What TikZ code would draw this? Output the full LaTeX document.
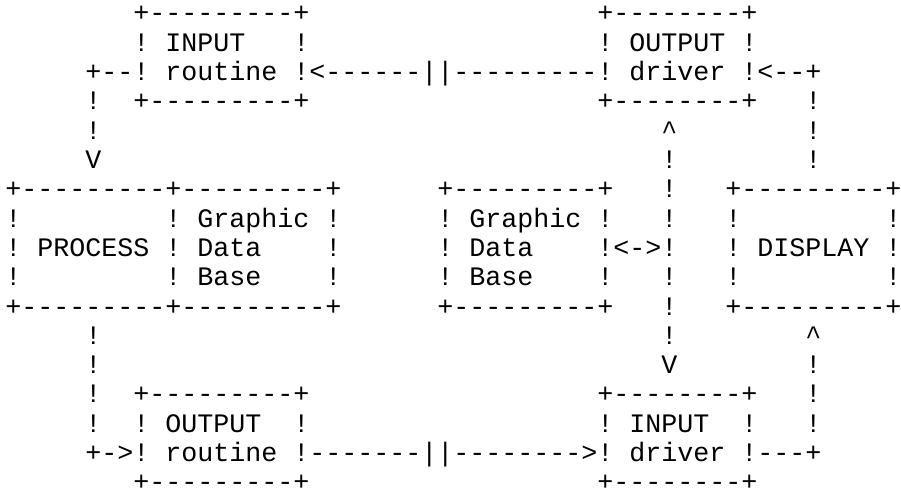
\documentclass[tikz,border=0pt]{standalone}
\usepackage{fontspec}
\setmonofont{Liberation Mono}
\tikzset{
  seg/.style={inner sep=0pt, outer sep=0pt, anchor=base west,
    font=\ttfamily\fontsize{26.67pt}{29.3pt}\selectfont, text=black}
}
\newcommand\asciiseg[4]{\node[seg] (#1) at ({5.3pt+16.003pt*#2},{-22pt-29.3pt*#3}) {#4};}
\begin{document}
\begin{tikzpicture}
\fill[white] (0,0) rectangle (901pt,-495pt);
\useasboundingbox (0,0) rectangle (901pt,-495pt);
% row 0
\asciiseg{a0}{8}{0}{+---------+}
\asciiseg{b0}{37}{0}{+--------+}
% row 1
\asciiseg{a1}{8}{1}{!}
\asciiseg{a1t}{10}{1}{INPUT}
\asciiseg{a1r}{18}{1}{!}
\asciiseg{b1}{37}{1}{!}
\asciiseg{b1t}{39}{1}{OUTPUT}
\asciiseg{b1r}{46}{1}{!}
% row 2
\asciiseg{l2}{5}{2}{+--!}
\asciiseg{a2t}{10}{2}{routine}
\asciiseg{m2}{18}{2}{!<------||---------!}
\asciiseg{b2t}{39}{2}{driver}
\asciiseg{r2}{46}{2}{!<--+}
% row 3
\asciiseg{l3}{5}{3}{!}
\asciiseg{a3}{8}{3}{+---------+}
\asciiseg{b3}{37}{3}{+--------+}
\asciiseg{r3}{50}{3}{!}
% row 4
\asciiseg{l4}{5}{4}{!}
\asciiseg{v4}{41}{4}{\textasciicircum}
\asciiseg{r4}{50}{4}{!}
% row 5
\asciiseg{l5}{5}{5}{V}
\asciiseg{v5}{41}{5}{!}
\asciiseg{r5}{50}{5}{!}
% row 6
\asciiseg{p6}{0}{6}{+---------+---------+}
\asciiseg{g6}{27}{6}{+---------+}
\asciiseg{v6}{41}{6}{!}
\asciiseg{d6}{45}{6}{+---------+}
% row 7
\asciiseg{p7a}{0}{7}{!}
\asciiseg{p7b}{10}{7}{!}
\asciiseg{p7t}{12}{7}{Graphic}
\asciiseg{p7c}{20}{7}{!}
\asciiseg{g7a}{27}{7}{!}
\asciiseg{g7t}{29}{7}{Graphic}
\asciiseg{g7b}{37}{7}{!}
\asciiseg{v7}{41}{7}{!}
\asciiseg{d7a}{45}{7}{!}
\asciiseg{d7b}{55}{7}{!}
% row 8
\asciiseg{p8a}{0}{8}{!}
\asciiseg{p8t}{2}{8}{PROCESS}
\asciiseg{p8b}{10}{8}{!}
\asciiseg{p8u}{12}{8}{Data}
\asciiseg{p8c}{20}{8}{!}
\asciiseg{g8a}{27}{8}{!}
\asciiseg{g8t}{29}{8}{Data}
\asciiseg{g8b}{37}{8}{!<->!}
\asciiseg{d8a}{45}{8}{!}
\asciiseg{d8t}{47}{8}{DISPLAY}
\asciiseg{d8b}{55}{8}{!}
% row 9
\asciiseg{p9a}{0}{9}{!}
\asciiseg{p9b}{10}{9}{!}
\asciiseg{p9t}{12}{9}{Base}
\asciiseg{p9c}{20}{9}{!}
\asciiseg{g9a}{27}{9}{!}
\asciiseg{g9t}{29}{9}{Base}
\asciiseg{g9b}{37}{9}{!}
\asciiseg{v9}{41}{9}{!}
\asciiseg{d9a}{45}{9}{!}
\asciiseg{d9b}{55}{9}{!}
% row 10
\asciiseg{p10}{0}{10}{+---------+---------+}
\asciiseg{g10}{27}{10}{+---------+}
\asciiseg{v10}{41}{10}{!}
\asciiseg{d10}{45}{10}{+---------+}
% row 11
\asciiseg{l11}{5}{11}{!}
\asciiseg{v11}{41}{11}{!}
\asciiseg{r11}{50}{11}{\textasciicircum}
% row 12
\asciiseg{l12}{5}{12}{!}
\asciiseg{v12}{41}{12}{V}
\asciiseg{r12}{50}{12}{!}
% row 13
\asciiseg{l13}{5}{13}{!}
\asciiseg{c13}{8}{13}{+---------+}
\asciiseg{e13}{37}{13}{+--------+}
\asciiseg{r13}{50}{13}{!}
% row 14
\asciiseg{l14}{5}{14}{!}
\asciiseg{c14a}{8}{14}{!}
\asciiseg{c14t}{10}{14}{OUTPUT}
\asciiseg{c14b}{18}{14}{!}
\asciiseg{e14a}{37}{14}{!}
\asciiseg{e14t}{39}{14}{INPUT}
\asciiseg{e14b}{46}{14}{!}
\asciiseg{r14}{50}{14}{!}
% row 15
\asciiseg{l15}{5}{15}{+->!}
\asciiseg{c15t}{10}{15}{routine}
\asciiseg{m15}{18}{15}{!-------||-------->!}
\asciiseg{e15t}{39}{15}{driver}
\asciiseg{r15}{46}{15}{!---+}
% row 16
\asciiseg{c16}{8}{16}{+---------+}
\asciiseg{e16}{37}{16}{+--------+}
\end{tikzpicture}
\end{document}
